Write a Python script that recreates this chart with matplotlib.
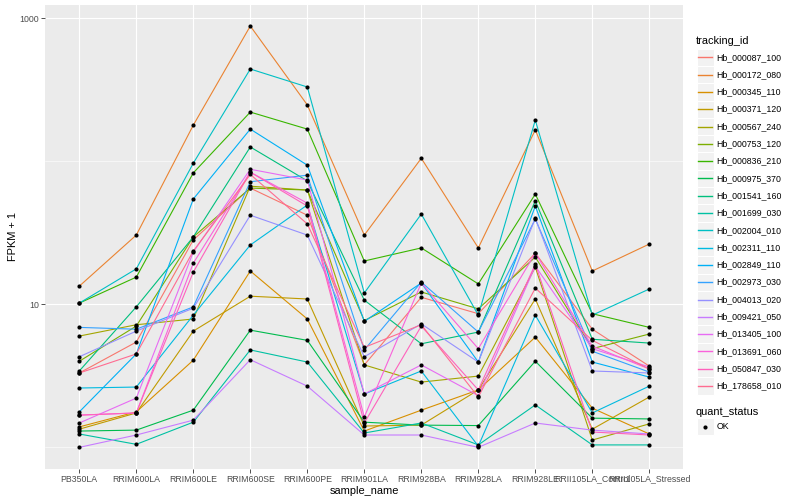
import matplotlib
matplotlib.use('Agg')
import matplotlib.pyplot as plt
from matplotlib.patches import Rectangle

plt.rcParams['font.family'] = ['Liberation Sans', 'DejaVu Sans']

samples = ['PB350LA', 'RRIM600LA', 'RRIM600LE', 'RRIM600SE', 'RRIM600PE', 'RRIM901LA',
           'RRIM928BA', 'RRIM928LA', 'RRIM928LE', 'RRII105LA_Control', 'RRII105LA_Stressed']

tracking_ids = ['Hb_000087_100', 'Hb_000172_080', 'Hb_000345_110', 'Hb_000371_120',
                'Hb_000567_240', 'Hb_000753_120', 'Hb_000836_210', 'Hb_000975_370',
                'Hb_001541_160', 'Hb_001699_030', 'Hb_002004_010', 'Hb_002311_110',
                'Hb_002849_110', 'Hb_002973_030', 'Hb_004013_020', 'Hb_009421_050',
                'Hb_013405_100', 'Hb_013691_060', 'Hb_050847_030', 'Hb_178658_010']

# ggplot hue palette, 20 levels
colors = ['#F8766D', '#EA8331', '#D89000', '#C09B00', '#A3A500', '#7CAE00', '#39B600',
          '#00BB4E', '#00BF7D', '#00C1A3', '#00BFC4', '#00BAE0', '#00B0F6', '#35A2FF',
          '#9590FF', '#C77CFF', '#E76BF3', '#FA62DB', '#FF62BC', '#FF6C91']

# FPKM + 1, one list per gene, in sample order
hb_000087_100 = [3.31, 5.45, 28.2, 65, 42, 3.77, 11.2, 8.6, 22.8, 6.7, 3.7]
hb_000172_080 = [13.4, 30.5, 179, 883, 248, 30.5, 105, 24.8, 166, 17.1, 26.4]
hb_000345_110 = [1.39, 1.77, 4.07, 17.1, 7.9, 1.30, 1.82, 2.52, 5.9, 1.88, 1.24]
hb_000371_120 = [1.34, 1.74, 6.5, 11.4, 10.9, 1.41, 1.43, 2.52, 10.9, 1.34, 2.25]
hb_000567_240 = [6.0, 7.2, 7.9, 67, 63, 3.77, 2.86, 3.15, 18.2, 1.125, 1.46]
hb_000753_120 = [4.0, 7.05, 29.6, 65, 63, 7.7, 12.2, 9.3, 21.4, 4.9, 6.2]
hb_000836_210 = [10.2, 15.5, 83, 221, 168, 20.1, 24.8, 13.9, 59, 8.6, 6.9]
hb_000975_370 = [1.30, 1.32, 1.82, 6.6, 5.6, 1.50, 1.43, 1.42, 4.0, 1.60, 1.58]
hb_001541_160 = [3.42, 9.6, 29.6, 126, 73, 10.7, 5.3, 6.4, 53, 5.7, 5.36]
hb_001699_030 = [1.24, 1.05, 1.50, 4.8, 3.95, 1.26, 1.48, 1.04, 1.98, 1.04, 1.04]
hb_002004_010 = [10.2, 17.7, 97, 442, 331, 12.0, 42.8, 8.4, 194, 8.4, 12.8]
hb_002311_110 = [2.6, 2.64, 8.4, 26.0, 49.5, 2.36, 3.42, 1.02, 8.4, 1.74, 2.68]
hb_002849_110 = [1.77, 4.5, 54.5, 168, 94, 7.6, 14.1, 3.95, 48.7, 3.95, 3.1]
hb_002973_030 = [6.9, 6.7, 9.6, 72, 80, 4.8, 14.3, 6.4, 39.5, 4.7, 3.36]
hb_004013_020 = [4.3, 6.5, 9.4, 42, 30.5, 4.3, 7.3, 3.95, 40, 3.42, 3.31]
hb_009421_050 = [1.0, 1.22, 1.55, 4.1, 2.68, 1.22, 1.22, 1.0, 1.48, 1.32, 1.24]
hb_013405_100 = [1.48, 2.21, 23.2, 88, 74, 2.36, 3.77, 2.3, 18.5, 4.9, 3.65]
hb_013691_060 = [1.68, 1.74, 19.4, 84, 51, 1.63, 14.1, 4.9, 22.8, 5.1, 3.53]
hb_050847_030 = [1.68, 1.74, 16.8, 84, 48.7, 1.48, 7.05, 2.52, 19.1, 1.28, 1.22]
hb_178658_010 = [3.31, 4.5, 23.6, 81, 36.5, 5.0, 7.2, 2.25, 13.0, 5.6, 3.53]

series = [hb_000087_100, hb_000172_080, hb_000345_110, hb_000371_120, hb_000567_240,
          hb_000753_120, hb_000836_210, hb_000975_370, hb_001541_160, hb_001699_030,
          hb_002004_010, hb_002311_110, hb_002849_110, hb_002973_030, hb_004013_020,
          hb_009421_050, hb_013405_100, hb_013691_060, hb_050847_030, hb_178658_010]

W, H = 800, 500
fig = plt.figure(figsize=(8, 5), dpi=100)
fig.patch.set_facecolor('white')

# panel in pixel terms
pl, pr, pt, pb = 45.1, 683.5, 5.0, 468.8
ax = fig.add_axes([pl / W, 1 - pb / H, (pr - pl) / W, (pb - pt) / H])
ax.set_facecolor('#EBEBEB')

xs = list(range(len(samples)))
for vals, c in zip(series, colors):
    ax.plot(xs, vals, color=c, lw=0.8, zorder=2, solid_capstyle='butt')
for vals in series:
    ax.plot(xs, vals, ls='none', marker='o', ms=3.0, mfc='black', mec='black', mew=0, zorder=3)

ax.set_yscale('log')
ax.set_ylim(0.708, 1239)
ax.set_xlim(-0.6, len(samples) - 0.4)
ax.set_yticks([10, 1000])
ax.set_yticklabels(['10', '1000'])
ax.set_yticks([1, 100], minor=True)
ax.set_yticklabels([], minor=True)
ax.set_xticks(xs)
ax.set_xticklabels(samples)

ax.grid(True, which='major', color='white', lw=0.8, zorder=0)
ax.grid(True, which='minor', axis='y', color='white', lw=0.4, zorder=0)
ax.set_axisbelow(True)
for s in ax.spines.values():
    s.set_visible(False)
ax.tick_params(which='major', length=2.6, width=0.6, color='#333333',
               labelsize=6.3, labelcolor='#4D4D4D', pad=1.6)
ax.tick_params(which='minor', length=0)

ax.set_xlabel('sample_name', fontsize=7.9, labelpad=1.5)
ax.set_ylabel('FPKM + 1', fontsize=7.9, labelpad=1.5)

# legends, drawn in pixel coordinates
lg = fig.add_axes([0, 0, 1, 1], zorder=5)
lg.set_xlim(0, W)
lg.set_ylim(H, 0)
lg.axis('off')

kx, kw = 696.5, 17.3
lg.text(695.5, 41, 'tracking_id', fontsize=7.9, va='center', ha='left')
y0 = 57.3
for i, (name, c) in enumerate(zip(tracking_ids, colors)):
    yc = y0 + i * kw
    lg.add_patch(Rectangle((kx, yc - kw / 2), kw, kw, facecolor='#F2F2F2', edgecolor='white',
                           lw=0.8, zorder=1))
    lg.plot([kx + 1.7, kx + kw - 1.7], [yc, yc], color=c, lw=1.0, zorder=2)
    lg.text(716.7, yc, name, fontsize=6.3, va='center', ha='left')

lg.text(695.5, 412, 'quant_status', fontsize=7.9, va='center', ha='left')
yc = 426.5
lg.add_patch(Rectangle((kx, yc - kw / 2), kw, kw, facecolor='#F2F2F2', edgecolor='white',
                       lw=0.8, zorder=1))
lg.plot([kx + kw / 2], [yc], ls='none', marker='o', ms=3.0, mfc='black', mec='black', mew=0,
        zorder=2)
lg.text(716.7, yc, 'OK', fontsize=6.3, va='center', ha='left')

fig.savefig('out.png', dpi=100)
